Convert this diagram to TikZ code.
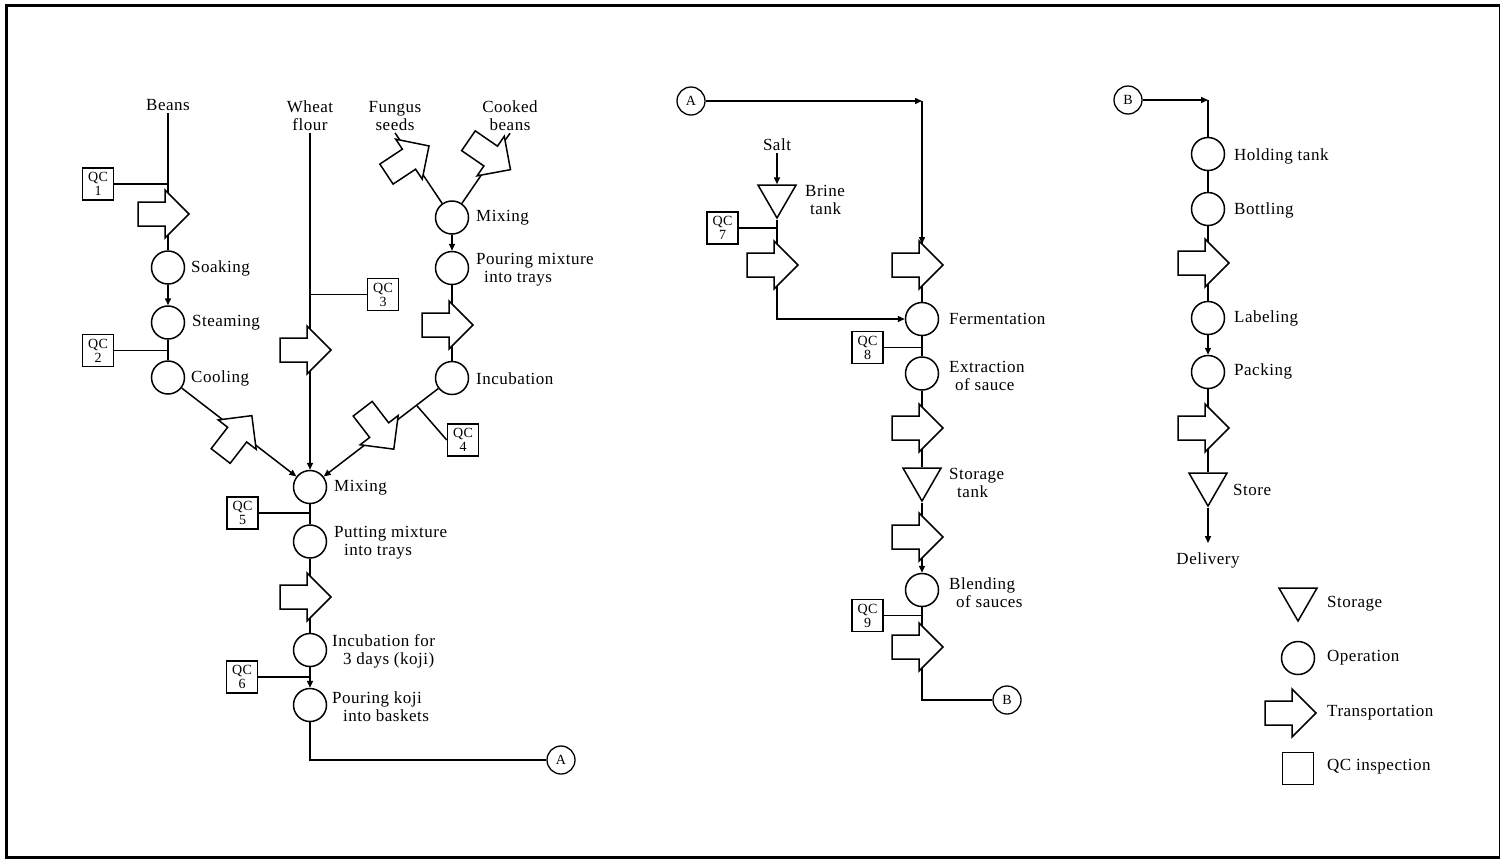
\documentclass[tikz,border=0pt]{standalone}
\usepackage{fontspec}
\setmainfont{Liberation Serif}[LetterSpace=3]
\usetikzlibrary{shapes.geometric,arrows.meta,calc}

\newcommand{\lblfont}{\fontsize{17}{18}\selectfont}
\newcommand{\qcfont}{\fontsize{14}{14}\selectfont}

\tikzset{
  flow/.style={line width=1.5pt},
  into/.style={flow,-{Triangle[length=7pt,width=6pt]}},
  oper/.style={circle,draw,line width=1.5pt,minimum size=33pt,inner sep=0pt},
  stor/.style={regular polygon,regular polygon sides=3,shape border rotate=180,draw,line width=1.5pt,minimum size=44pt,inner sep=0pt},
  qcbox/.style={rectangle,draw,line width=1.5pt,minimum width=31pt,minimum height=32pt,inner sep=0pt,align=center,font=\qcfont},
  conn/.style={circle,draw,line width=1.3pt,minimum size=28pt,inner sep=0pt,font=\qcfont},
  lbl/.style={anchor=west,inner sep=0pt,align=left,font=\lblfont},
  src/.style={inner sep=2pt,align=center,font=\lblfont},
  transport/.pic={
    \draw[line width=1.5pt,fill=white,line join=miter] (-3,-12) -- (-30,-12) -- (-30,12) -- (-3,12) -- (-3,24) -- (21,0) -- (-3,-24) -- cycle;
    \coordinate (-top) at (0,-21);
    \coordinate (-bot) at (0,21);
  }
}

\begin{document}
\begin{tikzpicture}[x=1pt,y=-1pt]
\useasboundingbox (0,0) rectangle (1501,860);
\draw[line width=3pt] (1499,5.5) -- (6.5,5.5) -- (6.5,857.5) -- (1499,857.5);
\draw[line width=1pt] (1499.5,4) -- (1499.5,859);

% raw materials
\node[src] (beans)  at (168,105) {Beans};
\node[src] (wheat)  at (310,116) {Wheat\\flour};
\node[src] (fungus) at (395,116) {Fungus\\seeds};
\node[src] (cooked) at (510,116) {Cooked\\beans};

% koji making
\node[qcbox] (qc1) at (98,184) {QC\\1};
\node[oper] (soak)  at (168,267.5) {};
\node[oper] (steam) at (168,322.5) {};
\node[qcbox] (qc2) at (98,350.5) {QC\\2};
\node[oper] (cool)  at (168,377.5) {};
\node[lbl] (soakL)  at (191,268) {Soaking};
\node[lbl] (steamL) at (192,323) {Steaming};
\node[lbl] (coolL)  at (191,378) {Cooling};

\node[oper] (mixT)  at (452,217.5) {};
\node[oper] (pourT) at (452,268) {};
\node[oper] (inc)   at (452,378) {};
\node[qcbox] (qc4) at (463,440) {QC\\4};
\node[lbl] (mixTL)  at (476,218) {Mixing};
\node[lbl] (pourTL) at (476,270) {Pouring mixture\\\hspace*{8pt}into trays};
\node[lbl] (incL)   at (476,379) {Incubation};

\node[qcbox] (qc3) at (383,294.5) {QC\\3};
\node[oper] (mixM)  at (310,487) {};
\node[qcbox] (qc5) at (242.5,513) {QC\\5};
\node[oper] (put)   at (310,541.5) {};
\node[oper] (incK)  at (310,650) {};
\node[qcbox] (qc6) at (242,677) {QC\\6};
\node[oper] (pourK) at (310,705) {};
\node[conn] (Aout)  at (561,760) {A};
\node[lbl] (mixML)  at (334,488) {Mixing};
\node[lbl] (putL)   at (334,543) {Putting mixture\\\hspace*{10pt}into trays};
\node[lbl] (incKL)  at (332,651) {Incubation for\\\hspace*{11pt}3 days (koji)};
\node[lbl] (pourKL) at (332,707) {Pouring koji\\\hspace*{11pt}into baskets};

% fermentation
\node[conn] (Ain) at (691,101) {A};
\coordinate (cornA) at (922,101);
\node[src] (salt) at (777,145) {Salt};
\node[stor] (brine) at (777,196) {};
\node[lbl] (brineL) at (805,200) {Brine\\\hspace*{5pt}tank};
\node[qcbox] (qc7) at (722.5,228) {QC\\7};
\node[oper] (ferm)  at (922,319) {};
\node[qcbox] (qc8) at (867.5,347.5) {QC\\8};
\node[oper] (extr)  at (922,373.5) {};
\node[stor] (tank)  at (922,479) {};
\node[oper] (blend) at (922,590) {};
\node[qcbox] (qc9) at (867.5,615.5) {QC\\9};
\node[conn] (Bout)  at (1007,700) {B};
\node[lbl] (fermL)  at (949,319) {Fermentation};
\node[lbl] (extrL)  at (949,376) {Extraction\\\hspace*{6pt}of sauce};
\node[lbl] (tankL)  at (949,482.5) {Storage\\\hspace*{8pt}tank};
\node[lbl] (blendL) at (949,593) {Blending\\\hspace*{7pt}of sauces};

% bottling
\node[conn] (Bin) at (1128,100) {B};
\coordinate (cornB) at (1208,100);
\node[oper] (hold)   at (1208,154) {};
\node[oper] (bottle) at (1208,209) {};
\node[oper] (labl)   at (1208,318) {};
\node[oper] (pack)   at (1208,372) {};
\node[stor] (store)  at (1208,484) {};
\node[src] (deliv)   at (1208,560) {Delivery};
\node[lbl] (holdL)   at (1234,156) {Holding tank};
\node[lbl] (bottleL) at (1234,210) {Bottling};
\node[lbl] (lablL)   at (1234,318) {Labeling};
\node[lbl] (packL)   at (1234,371) {Packing};
\node[lbl] (storeL)  at (1233,490) {Store};

% legend
\node[stor] (legS)  at (1298,599) {};
\node[oper] (legO)  at (1298,658) {};
\node[qcbox] (legQ) at (1298,768.5) {};
\node[lbl] (legSL) at (1327,604) {Storage};
\node[lbl] (legOL) at (1327,658) {Operation};
\node[lbl] (legTL) at (1327,713) {Transportation};
\node[lbl] (legQL) at (1327,767) {QC inspection};

% flow lines
\draw[flow] (beans) -- (soak);
\draw[into] (soak) -- (steam);
\draw[flow] (steam) -- (cool);
\draw[into] (cool) -- (mixM);
\draw[into] (wheat) -- (mixM);
\draw[into] (inc) -- (mixM);
\draw[flow] (fungus.south) -- (mixT.125);
\draw[flow] (cooked.south) -- (mixT.55);
\draw[into] (mixT) -- (pourT);
\draw[flow] (pourT) -- (inc);
\draw[flow] (mixM) -- (put);
\draw[flow] (put) -- (incK);
\draw[into] (incK) -- (pourK);
\draw[flow] (pourK) |- (Aout);

\draw[into] (Ain) -- (cornA);
\draw[flow] (cornA) -- (ferm);
\draw[into] (salt) -- (brine);
\draw[into] (brine) |- (ferm);
\draw[flow] (ferm) -- (extr);
\draw[flow] (extr) -- (tank);
\draw[into] (tank) -- (blend);
\draw[flow] (blend) |- (Bout);

\draw[into] (Bin) -- (cornB);
\draw[flow] (cornB) -- (hold);
\draw[flow] (hold) -- (bottle);
\draw[flow] (bottle) -- (labl);
\draw[into] (labl) -- (pack);
\draw[flow] (pack) -- (store);
\draw[into,shorten >=7pt] (store) -- (deliv);

% inspections
\draw[flow] (qc1) -- (qc1 -| soak);
\draw[flow] (qc2) -- (qc2 -| cool);
\draw[flow] (qc3) -- (qc3 -| mixM);
\draw[flow] ($(inc)!0.25!(mixM)$) -- (qc4.west);
\draw[flow] (qc5) -- (qc5 -| put);
\draw[flow] (qc6) -- (qc6 -| pourK);
\draw[flow] (qc7) -- (qc7 -| brine);
\draw[flow] (qc8) -- (qc8 -| ferm);
\draw[flow] (qc9) -- (qc9 -| blend);

% transportation
\pic (trBe) at (168,214) {transport};
\pic (trWh) at (310,350) {transport};
\pic (trPT) at (452,325) {transport};
\pic (trPu) at (310,597) {transport};
\pic[rotate=52.3] (trCo) at ($(cool)!0.5!(mixM)$) {transport};
\pic[rotate=-52.4] (trIn) at ($(inc)!0.5!(mixM)$) {transport};
\pic[rotate=33.5] (trFu) at ($(fungus.south)!0.35!(mixT.125)$) {transport};
\pic[rotate=-34.5] (trCk) at ($(cooked.south)!0.35!(mixT.55)$) {transport};
\pic (trBr) at (777,265) {transport};
\pic (trFe) at (922,265) {transport};
\pic (trEx) at (922,428) {transport};
\pic (trTa) at (922,537) {transport};
\pic (trBl) at (922,647) {transport};
\pic (trBo) at (1208,263) {transport};
\pic (trPa) at (1208,428) {transport};
\pic (legT) at (1295,713) {transport};
\draw[into] (cornA) -- (trFe-top);
\end{tikzpicture}
\end{document}
